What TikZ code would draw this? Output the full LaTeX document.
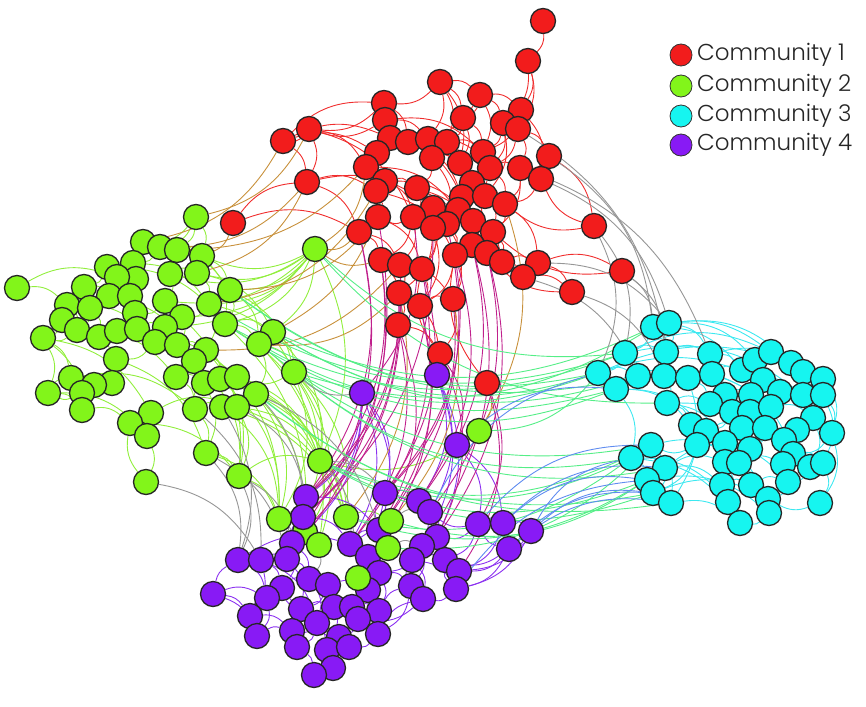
\documentclass[tikz,border=0pt]{standalone}
\usepackage{fontspec}
\newfontfamily\legendfont{Poppins}[UprightFont=* Light]
\usetikzlibrary{backgrounds}
\definecolor{nRed}{RGB}{242,28,28}
\definecolor{nGreen}{RGB}{130,245,26}
\definecolor{nCyan}{RGB}{22,245,240}
\definecolor{nPurple}{RGB}{136,26,245}
\definecolor{eRed}{RGB}{240,45,45}
\definecolor{eGreen}{RGB}{145,238,60}
\definecolor{eCyan}{RGB}{60,232,240}
\definecolor{ePurple}{RGB}{140,50,240}
\definecolor{eOrange}{RGB}{200,145,60}
\definecolor{eMagenta}{RGB}{192,32,140}
\definecolor{eLgreen}{RGB}{85,238,135}
\definecolor{eBlue}{RGB}{95,140,240}
\definecolor{eGray}{RGB}{150,150,150}
\tikzset{
  vtx/.style={circle,draw=black!85,line width=1.3pt,minimum size=25pt,inner sep=0pt},
  vr/.style={vtx,fill=nRed}, vg/.style={vtx,fill=nGreen},
  vc/.style={vtx,fill=nCyan}, vp/.style={vtx,fill=nPurple},
  ed/.style={line width=0.9pt,bend left=24},
  legdot/.style={circle,draw=black!80,line width=0.8pt,minimum size=22pt,inner sep=0pt},
  legtxt/.style={anchor=west,inner sep=0pt,font=\legendfont\fontsize{23}{26}\selectfont,text=black!85}
}
\begin{document}
\begin{tikzpicture}[x=1pt,y=-1pt]
\useasboundingbox (0,0) rectangle (866,706);
% ---------- red ----------
\foreach \n/\x/\y in {1/543/21,2/528/61,3/440/82,4/480/95,5/384/103,6/385/120,7/521/110,8/463/118,9/503/123,10/518/129,11/309/129,12/283/141,13/390/138,14/408/142,15/428/139,16/447/142,17/377/153,18/432/158,19/483/152,20/460/163,21/549/156,22/490/168,23/520/168,24/366/167,25/541/179,26/307/182,27/385/181,28/472/183,29/417/188,30/376/191,31/462/197,32/485/196,33/505/204,34/433/208,35/413/217,36/458/210,37/378/217,38/473/221,39/447/224,40/433/228,41/493/232,42/359/232,43/472/245,44/455/255,45/487/253,46/381/260,47/400/265,48/422/269,49/502/262,50/538/263,51/523/277,52/594/226,53/622/271,54/572/292,55/399/293,56/420/306,57/453/299,58/398/325,59/440/354,60/487/383,61/233/223}
  \node[vr] (r\n) at (\x,\y) {};
% ---------- cyan ----------
\foreach \n/\x/\y in {1/653/327,2/669/323,3/625/353,4/666/352,5/710/354,6/598/373,7/616/389,8/638/376,9/664/376,10/688/378,11/712/374,12/742/370,13/755/360,14/771/352,15/791/363,16/803/372,17/823/379,18/763/380,19/780/392,20/725/395,21/751/395,22/803/395,23/823/395,24/667/403,25/710/404,26/732/412,27/750/412,28/771/407,29/813/418,30/691/425,31/706/431,32/742/428,33/765/428,34/797/430,35/832/433,36/697/445,37/725/443,38/750/449,39/784/440,40/793/454,41/651/445,42/631/458,43/665/468,44/725/462,45/739/463,46/783/464,47/810/467,48/823/463,49/647/480,50/722/485,51/751/485,52/788/482,53/653/493,54/671/503,55/728/502,56/768/499,57/769/513,58/820/503,59/740/523}
  \node[vc] (c\n) at (\x,\y) {};
% ---------- green ----------
\foreach \n/\x/\y in {1/196/217,2/315/249,3/143/242,4/160/247,5/177/250,6/202/256,7/133/263,8/107/267,10/136/279,9/117/277,11/170/274,12/197/273,13/17/288,14/84/287,15/230/290,16/109/296,17/130/296,18/165/301,19/209/304,20/67/305,21/90/308,22/135/313,23/182/317,24/62/320,25/225/324,26/77/330,27/99/337,28/117/331,29/137/329,30/165/327,31/43/338,32/155/342,33/273/332,34/259/344,35/177/345,36/206/350,37/116/359,38/194/361,39/294/372,40/71/378,41/176/377,42/204/383,43/220/379,44/237/377,46/112/383,45/94/385,47/82/393,48/48/393,49/256/394,50/82/410,51/195/409,52/222/407,53/237/407,54/151/413,55/130/423,56/147/436,57/206/453,58/146/482,59/239/476,60/320/461,61/479/431,65/305/532}
  \node[vg] (g\n) at (\x,\y) {};
% ---------- purple ----------
\foreach \n/\x/\y in {1/362/393,2/437/375,3/457/445,4/306/497,5/385/493,6/419/501,7/430/512,8/303/517,9/379/530,10/292/543,11/350/544,12/437/537,13/422/546,14/478/524,15/503/523,16/531/531,17/509/549,18/238/560,19/261/560,20/287/559,21/368/557,22/379/573,23/412/560,24/445/560,25/459/571,26/213/594,27/282/588,28/267/598,29/309/579,30/328/585,31/368/590,32/411/586,33/423/599,34/456/589,35/250/616,36/301/609,37/334/607,38/352/607,39/379/611,40/358/619,41/317/623,42/292/631,43/257/636,44/378/634,45/339/637,46/327/650,47/349/647,48/297/647,49/333/668,50/314/675}
  \node[vp] (p\n) at (\x,\y) {};
\foreach \n/\x/\y in {62/279/519,63/346/517,64/391/521,66/319/545,67/388/548,68/358/578}
  \node[vg] (g\n) at (\x,\y) {};
% ---------- edges ----------
\begin{pgfonlayer}{background}
\foreach \a/\b in {r1/r2,r2/r7,r2/r10,r3/r4,r3/r5,r3/r8,r3/r15,r4/r8,r4/r9,r4/r19,r5/r6,r5/r11,r5/r13,r6/r11,r6/r17,r7/r9,r7/r10,r9/r19,r10/r21,r10/r23,r11/r12,r11/r26,r12/r26,r13/r14,r13/r17,r14/r15,r15/r16,r16/r18,r16/r20,r17/r24,r18/r20,r18/r29,r19/r22,r19/r28,r20/r28,r21/r25,r21/r52,r22/r23,r22/r33,r23/r25,r24/r27,r24/r30,r26/r42,r27/r29,r27/r30,r28/r31,r29/r34,r29/r35,r30/r37,r31/r32,r31/r36,r32/r33,r33/r41,r34/r36,r34/r40,r35/r37,r35/r47,r36/r38,r36/r39,r37/r42,r38/r41,r38/r43,r39/r40,r39/r44,r40/r48,r41/r49,r42/r46,r43/r45,r43/r44,r44/r57,r45/r49,r46/r47,r47/r48,r47/r55,r48/r56,r49/r50,r49/r51,r50/r51,r50/r53,r51/r54,r52/r25,r55/r56,r55/r58,r56/r57,r58/r59,r59/r48,r60/r44,r12/r5,r61/r42,r11/r35,r17/r20,r8/r20,r14/r31,r15/r22,r13/r31,r24/r36,r27/r38,r30/r44,r6/r19,r3/r20,r9/r32,r7/r25,r23/r41,r29/r45,r37/r48,r46/r57,r33/r50,r28/r43,r52/r33,r53/r41,r54/r45,r26/r34,r12/r13,r8/r16,r19/r31,r22/r36,r18/r39,r40/r55,r57/r59,r4/r14,r5/r14,r6/r15,r9/r22,r5/r17,r13/r24,r16/r19,r20/r31,r29/r39,r34/r43,r35/r46,r27/r35,r30/r42,r38/r49,r41/r45,r28/r33,r32/r41,r14/r18,r15/r20,r10/r22,r7/r19,r3/r16,r8/r19,r4/r7,r40/r56,r39/r57,r34/r48,r44/r56,r43/r49,r25/r33,r23/r33,r50/r54,r21/r23,r11/r24,r12/r17,r26/r30,r42/r47,r46/r58,r55/r59,r2/r9,r61/r26}
  \draw[ed,eRed] (\a) to (\b);
\foreach \a/\b in {g1/g3,g1/g6,g1/g5,g2/g15,g2/g19,g2/g25,g2/g12,g2/g33,g2/g6,g2/g11,g2/g18,g2/g23,g2/g30,g3/g4,g3/g7,g4/g5,g4/g11,g5/g6,g5/g12,g6/g12,g6/g15,g7/g8,g7/g10,g8/g9,g8/g14,g9/g16,g9/g10,g10/g17,g11/g18,g11/g12,g12/g19,g13/g20,g13/g9,g14/g20,g14/g21,g15/g19,g15/g25,g16/g17,g16/g21,g17/g22,g18/g22,g18/g23,g19/g23,g19/g36,g20/g24,g21/g26,g21/g27,g22/g28,g22/g29,g23/g30,g23/g35,g24/g31,g24/g26,g25/g33,g25/g34,g26/g27,g26/g31,g27/g28,g28/g29,g29/g30,g30/g32,g31/g40,g31/g48,g32/g35,g32/g37,g33/g34,g34/g39,g34/g49,g35/g36,g35/g41,g36/g38,g36/g43,g37/g46,g37/g45,g38/g42,g38/g41,g39/g44,g39/g60,g40/g45,g40/g47,g41/g42,g42/g43,g43/g44,g44/g49,g45/g46,g45/g47,g47/g48,g47/g50,g48/g50,g49/g53,g50/g55,g51/g52,g51/g42,g52/g53,g53/g59,g54/g55,g54/g56,g55/g56,g56/g58,g58/g55,g57/g59,g51/g57,g59/g60,g59/g62,g60/g62,g60/g63,g60/g65,g2/g60,g39/g62,g33/g60,g49/g63,g36/g59,g43/g62,g44/g65,g24/g37,g31/g54,g20/g32,g26/g41,g16/g38,g40/g51,g48/g56,g27/g44,g8/g25,g7/g19,g3/g15,g39/g63,g61/g60,g62/g65,g63/g64,g66/g65,g67/g64,g68/g67,g54/g53,g55/g59,g37/g57,g25/g60,g34/g60,g49/g60,g53/g60,g44/g60,g15/g39,g33/g39,g19/g39,g36/g62,g52/g63,g43/g60,g49/g62,g25/g65,g34/g66,g12/g33,g39/g66,g53/g63,g57/g62,g23/g59,g38/g59,g42/g57,g41/g51,g30/g35,g48/g40,g31/g50,g14/g16,g20/g26,g10/g22,g4/g7,g1/g4,g52/g62,g44/g63,g15/g34,g6/g25}
  \draw[ed,eGreen] (\a) to (\b);
\foreach \a/\b in {c1/c2,c1/c3,c2/c4,c2/c5,c1/c4,c3/c6,c3/c8,c3/c4,c4/c9,c4/c5,c5/c11,c5/c12,c6/c7,c6/c8,c7/c8,c8/c9,c9/c10,c9/c24,c10/c11,c10/c25,c11/c12,c11/c20,c12/c13,c12/c18,c13/c14,c13/c18,c14/c15,c15/c16,c16/c17,c16/c19,c17/c23,c18/c19,c18/c21,c19/c22,c20/c21,c20/c26,c21/c27,c22/c23,c22/c29,c23/c35,c24/c25,c24/c30,c25/c26,c26/c27,c26/c31,c27/c28,c28/c29,c28/c33,c29/c34,c30/c31,c30/c36,c31/c32,c32/c37,c32/c33,c33/c38,c34/c35,c34/c39,c35/c40,c36/c37,c36/c41,c37/c44,c38/c39,c38/c45,c39/c40,c39/c46,c40/c48,c41/c42,c41/c49,c42/c43,c42/c49,c43/c44,c43/c53,c44/c45,c45/c46,c46/c47,c47/c48,c47/c52,c48/c58,c49/c53,c50/c51,c50/c55,c51/c52,c52/c56,c53/c54,c54/c59,c55/c59,c56/c57,c57/c59,c58/c56,c6/c17,c7/c31,c3/c22,c8/c28,c11/c40,c1/c14,c2/c15,c24/c47,c10/c54,c30/c57,c42/c59,c43/c50,c36/c53,c5/c16,c9/c39,c7/c42,c41/c54,c44/c55,c45/c51,c3/c14,c6/c19,c1/c12,c2/c13,c7/c30,c42/c55,c49/c57,c53/c56,c41/c45,c43/c38,c24/c37,c30/c44,c31/c50,c36/c52,c12/c29,c17/c35,c23/c48,c29/c47,c35/c58,c15/c22,c14/c16,c13/c21,c18/c27,c20/c32}
  \draw[ed,eCyan] (\a) to (\b);
\foreach \a/\b in {p18/p19,p19/p20,p20/p10,p10/p8,p8/p4,p26/p18,p26/p28,p28/p27,p27/p29,p29/p30,p30/p31,p31/p22,p22/p21,p21/p11,p11/p9,p9/p5,p5/p6,p6/p7,p7/p12,p12/p13,p13/p23,p23/p24,p24/p25,p25/p34,p34/p33,p33/p32,p32/p23,p14/p15,p15/p16,p16/p17,p17/p14,p14/p7,p14/p12,p17/p24,p35/p28,p35/p43,p43/p42,p42/p48,p48/p50,p50/p49,p49/p46,p46/p47,p47/p45,p45/p41,p41/p36,p36/p37,p37/p38,p38/p40,p40/p39,p39/p44,p44/p47,p36/p27,p41/p42,p37/p30,p38/p31,p39/p32,p40/p45,p44/p33,p34/p24,p3/p14,p3/p15,p2/p12,p2/p6,p1/p8,p1/p4,p1/p9,p16/p34,p15/p25,p19/p35,p20/p36,p10/p29,p11/p22,p13/p32,p21/p38,p22/p39,p5/p12,p6/p13,p4/p10,p8/p20,p27/p42,p28/p43,p29/p41,p30/p46,p31/p40,p9/p21,p23/p33,p12/p24,p17/p25,p18/p11,p26/p35,p19/p41,p1/p11,p1/p10,p1/p5,p2/p7,p2/p13,p4/p9,p5/p11,p8/p11,p10/p27,p18/p28,p19/p27,p20/p29,p21/p31,p22/p32,p23/p34,p13/p22,p14/p24,p16/p25,p17/p34,p26/p43,p35/p42,p36/p46,p41/p48,p45/p49,p38/p39,p30/p36,p29/p37,p31/p39,p32/p44,p33/p40}
  \draw[ed,ePurple] (\a) to (\b);
\foreach \a/\b in {r12/g3,r11/g1,r26/g4,r24/g2,r42/g2,r46/g2,r37/g15,r30/g19,r47/g36,r27/g33,r17/g5,r55/g34,r60/g61,r57/g64,r55/g63,r33/g61,r61/g6,r26/g12}
  \draw[ed,eOrange] (\a) to (\b);
\foreach \a/\b in {r46/p4,r46/p8,r47/p10,r55/p4,r55/p8,r56/p9,r57/p5,r48/p11,r44/p5,r43/p6,r45/p7,r58/p9,r59/p12,r60/p14,r60/p25,r42/p10,r37/p20,r59/p3,r56/p21,r58/p11,r35/p1,r40/p8,r42/p4,r47/p4,r39/p9,r44/p6,r48/p5,r45/p12,r43/p13}
  \draw[ed,eMagenta] (\a) to (\b);
\foreach \a/\b in {c3/g2,c6/g33,c1/g39,c42/g60,c49/g60,c7/g25,c41/g34,c53/g49,c42/g63,c6/g61,c8/g15,c43/g39,c49/g64,c41/g67,c3/g19,c54/g44,c1/g33,c3/g25,c6/g34,c7/g39,c41/g60,c42/g39,c49/g63,c53/g60,c24/g2,c8/g33,c6/g15}
  \draw[ed,eLgreen] (\a) to (\b);
\foreach \a/\b in {p16/c42,p15/c49,p17/c53,p14/c41,p3/c7,p16/c53,p17/c54,p7/c6,p15/c43,p34/c49}
  \draw[ed,eBlue] (\a) to (\b);
\foreach \a/\b in {r21/c1,r25/c2,r52/c3,r53/c4,r50/c2,r51/c8,r53/c1,r54/c9,r23/c5,r52/c6,r10/c4,g59/p18,g58/p19,g57/p20,g59/p10,g44/p8,g53/p4,g49/p9,g62/p20,g60/p11,g60/p5,g62/p10,g63/p11,g64/p7,g65/p20,g66/p29,g67/p13,g68/p22,g68/p31,p1/g39,g52/p18,g51/p19,g57/p18}
  \draw[ed,eGray] (\a) to (\b);
\end{pgfonlayer}
% ---------- legend ----------
\node[legdot,fill=nRed] (l1) at (681,55) {};
\node[legdot,fill=nGreen] (l2) at (681,86) {};
\node[legdot,fill=nCyan] (l3) at (681,116) {};
\node[legdot,fill=nPurple] (l4) at (681,145) {};
\node[legtxt] (t1) at (697,55) {Community 1};
\node[legtxt] (t2) at (697,86) {Community 2};
\node[legtxt] (t3) at (697,116) {Community 3};
\node[legtxt] (t4) at (697,145) {Community 4};
\end{tikzpicture}
\end{document}
